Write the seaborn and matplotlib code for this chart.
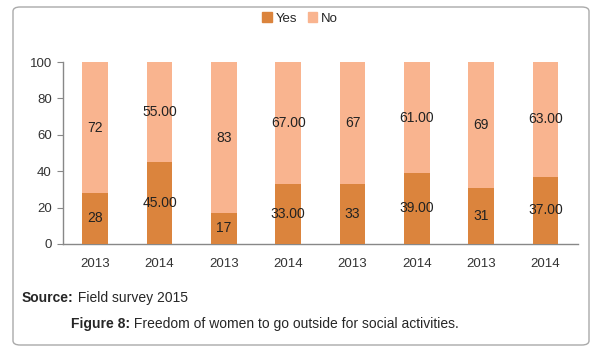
import matplotlib
matplotlib.use("Agg")
import matplotlib.pyplot as plt
from matplotlib.patches import FancyBboxPatch, Patch
import seaborn as sns
import pandas as pd

# data
years = ["2013", "2014", "2013", "2014", "2013", "2014", "2013", "2014"]
yes_vals = [28, 45, 17, 33, 33, 39, 31, 37]
no_vals = [72, 55, 83, 67, 67, 61, 69, 63]
yes_labels = ["28", "45.00", "17", "33.00", "33", "39.00", "31", "37.00"]
no_labels = ["72", "55.00", "83", "67.00", "67", "61.00", "69", "63.00"]

YES_COLOR = "#DB843D"
NO_COLOR = "#F9B48F"

sns.set_style("white")
plt.rcParams["font.family"] = ["Liberation Sans", "DejaVu Sans"]

df = pd.DataFrame({
    "idx": list(range(len(years))),
    "yes": yes_vals,
    "no": no_vals,
})
df["total"] = df["yes"] + df["no"]

fig = plt.figure(figsize=(6, 3.55), dpi=100)
ax = fig.add_axes([0.105, 0.313, 0.858, 0.512])

sns.barplot(data=df, x="idx", y="total", color=NO_COLOR, width=0.4,
            saturation=1, linewidth=0, ax=ax, zorder=2)
sns.barplot(data=df, x="idx", y="yes", color=YES_COLOR, width=0.4,
            saturation=1, linewidth=0, ax=ax, zorder=3)

for i in range(len(years)):
    ax.text(i, yes_vals[i] / 2, yes_labels[i], ha="center", va="center",
            fontsize=10, color="#222222", zorder=4)
    ax.text(i, yes_vals[i] + no_vals[i] / 2, no_labels[i], ha="center",
            va="center", fontsize=10, color="#222222", zorder=4)

ax.set_ylim(0, 100)
ax.set_xlim(-0.5, len(years) - 0.5)
ax.set_yticks(range(0, 101, 20))
ax.set_yticklabels([str(v) for v in range(0, 101, 20)], fontsize=9.5, color="#333333")
ax.set_xticks(range(len(years)))
ax.set_xticklabels(years, fontsize=9.5, color="#333333")
ax.tick_params(axis="x", length=0, pad=10)
ax.set_xticks([i - 0.5 for i in range(len(years) + 1)], minor=True)
ax.tick_params(axis="x", which="minor", length=5, color="#888888", direction="out")
ax.tick_params(axis="y", length=4, color="#888888", direction="out", left=True, pad=4)
ax.set_xlabel("")
ax.set_ylabel("")
for side in ["top", "right"]:
    ax.spines[side].set_visible(False)
for side in ["left", "bottom"]:
    ax.spines[side].set_color("#888888")
    ax.spines[side].set_linewidth(1)

handles = [Patch(color=YES_COLOR, label="Yes"), Patch(color=NO_COLOR, label="No")]
fig.legend(handles=handles, loc="center", bbox_to_anchor=(0.5, 0.948), ncol=2,
           frameon=False, fontsize=9.5, handlelength=0.7, handleheight=0.7,
           handletextpad=0.3, columnspacing=0.8)


def two_part(x_px, y_px, bold, rest, size):
    renderer = fig.canvas.get_renderer()
    t1 = fig.text(x_px / 600, 1 - y_px / 355, bold, fontsize=size,
                  fontweight="bold", ha="left", va="center")
    bb = t1.get_window_extent(renderer=renderer)
    fig.text(bb.x1 / fig.bbox.width, 1 - y_px / 355, rest, fontsize=size,
             ha="left", va="center")


two_part(22, 298, "Source:", " Field survey 2015", 10)
two_part(71, 324, "Figure 8:", " Freedom of women to go outside for social activities.", 10)

box = FancyBboxPatch((13 / 600, 10 / 355), 576 / 600, 338 / 355,
                     boxstyle="round,pad=0,rounding_size=0.012",
                     transform=fig.transFigure, fill=False,
                     edgecolor="#AAAAAA", linewidth=1)
fig.patches.append(box)

fig.savefig("out.png", dpi=100)
